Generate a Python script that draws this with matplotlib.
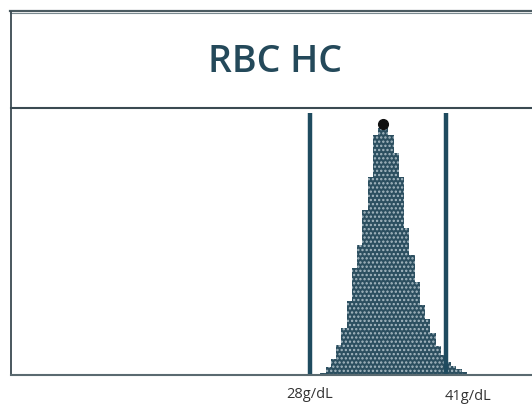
import numpy as np
import matplotlib
matplotlib.use("Agg")
import matplotlib.pyplot as plt
from matplotlib.lines import Line2D

# RBC HC histogram, bins of 0.5 g/dL
bin_left = np.arange(29.0, 43.0, 0.5)
counts = [2, 8, 16, 30, 47, 74, 107, 130, 165, 198, 240, 247, 247, 240,
          222, 198, 147, 120, 93, 70, 56, 42, 29, 20, 13, 9, 6, 3]
limits = [28, 41]
limit_labels = ["28g/dL", "41g/dL"]
peak = (35.0, 251)
title = "RBC HC"

W, H = 532, 405
fig = plt.figure(figsize=(W / 100, H / 100), dpi=100)
plt.rcParams['hatch.linewidth'] = 1.1

# pixel -> g/dL mapping (28 at px 310, 41 at px 446)
scale = (446 - 310) / 13.0
def gdl(px):
    return 28 + (px - 310) / scale

ax = fig.add_axes([11 / W, (H - 375) / H, (W - 11) / W, (375 - 108) / H])
ax.set_xlim(gdl(11), gdl(W))
ax.set_ylim(0, 267)

ax.bar(bin_left, counts, width=0.5, align='edge', facecolor='#2c4f60',
       edgecolor='#a8bac3', hatch='....', linewidth=0)
ax.vlines(limits, 1, 262, color='#1f4b5f', linewidth=3.2)
ax.plot([peak[0]], [peak[1]], 'o', color='#111111', markersize=7)

ax.set_xticks([])
ax.set_yticks([])
ax.spines['right'].set_visible(False)
ax.spines['left'].set_color('#3a4a52')
ax.spines['left'].set_linewidth(1.3)
ax.spines['top'].set_color('#3a4a52')
ax.spines['top'].set_linewidth(1.5)
ax.spines['bottom'].set_color('#5a6a70')
ax.spines['bottom'].set_linewidth(1.5)

# title box lines
fig.add_artist(Line2D([10 / W, 1], [1 - 10.5 / H, 1 - 10.5 / H], color='#4a5a60', lw=1.6))
fig.add_artist(Line2D([10 / W, 1], [1 - 13 / H, 1 - 13 / H], color='#7a8a90', lw=0.8))
fig.add_artist(Line2D([11 / W, 11 / W], [1 - 12 / H, 1 - 108 / H], color='#3a4a52', lw=1.3))

fig.text(275 / W, 1 - 62.5 / H, title, ha='center', va='center', fontsize=27,
         color='#24495a', family='Open Sans', weight='semibold')

fig.text(310 / W, 1 - 395 / H, limit_labels[0], ha='center', va='center',
         fontsize=10.5, color='#333333', family='Open Sans')
fig.text(468 / W, 1 - 397 / H, limit_labels[1], ha='center', va='center',
         fontsize=10.5, color='#333333', family='Open Sans')

fig.savefig("out.png", dpi=100)
